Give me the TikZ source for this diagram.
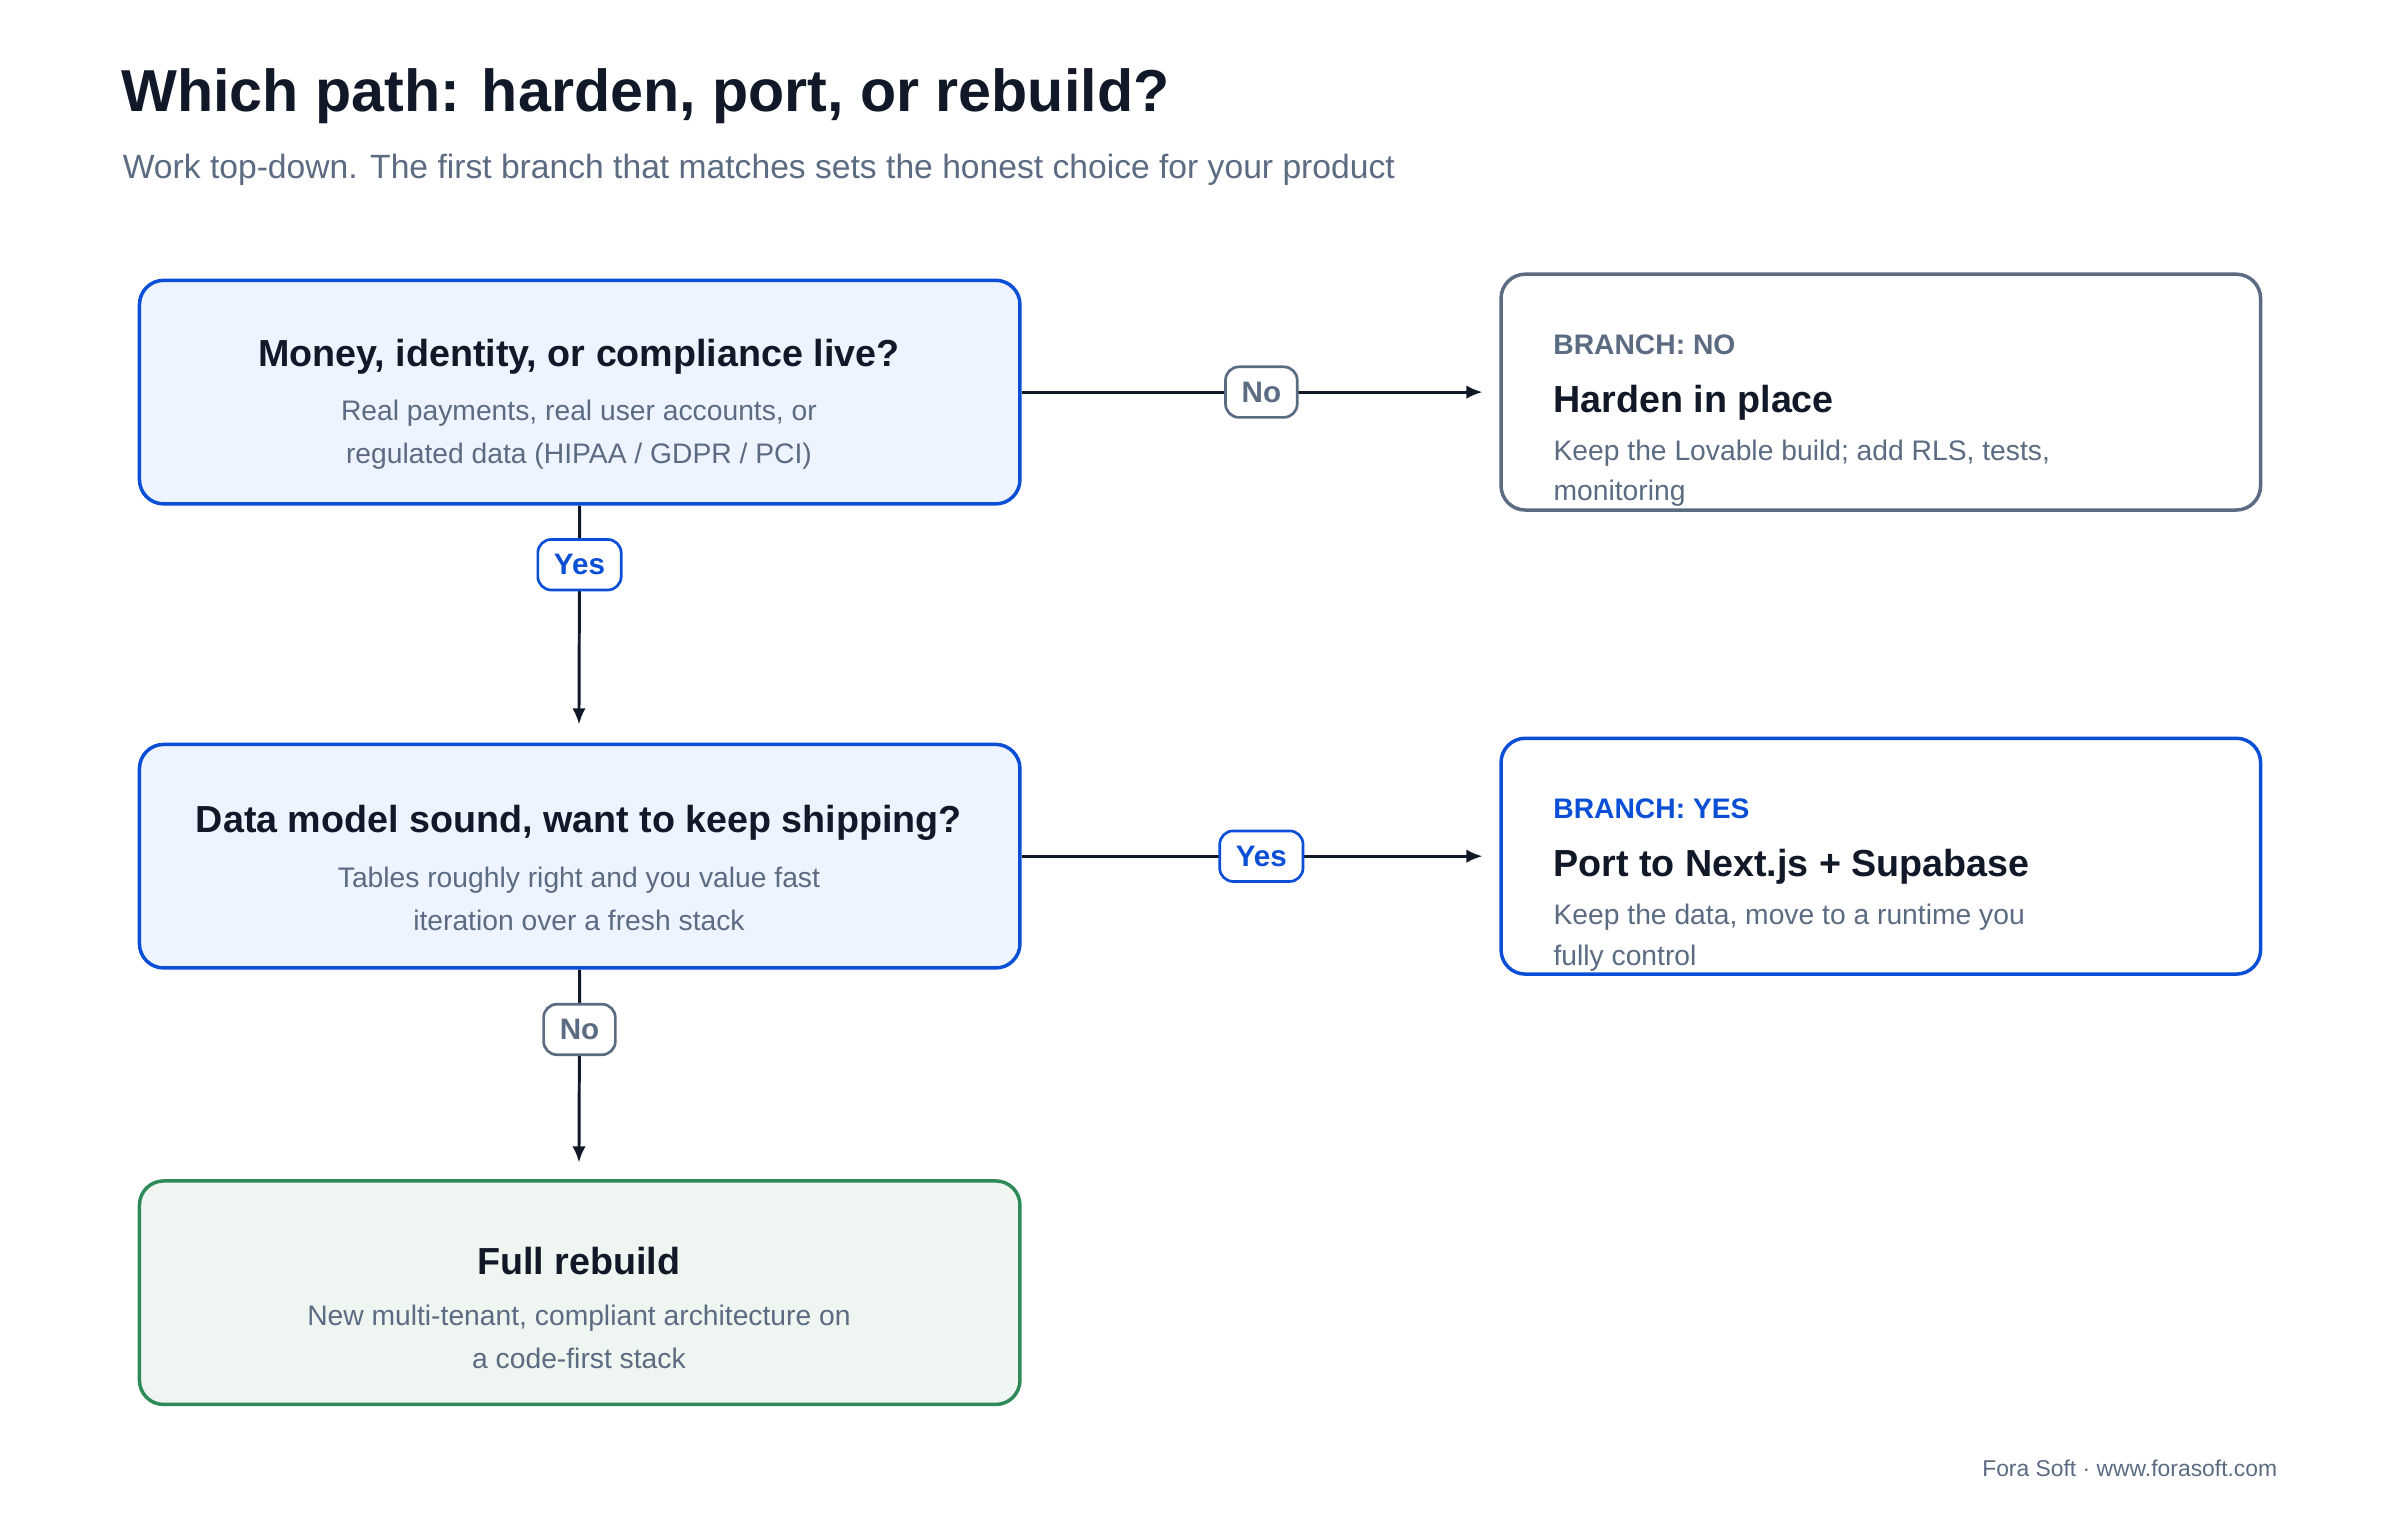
\documentclass[tikz,border=0pt]{standalone}
\usepackage{fontspec}
\setmainfont{Liberation Sans}
\usetikzlibrary{positioning}
\usetikzlibrary{arrows.meta}
\definecolor{ink}{HTML}{111827}
\definecolor{slate}{HTML}{5B6B82}
\definecolor{brand}{HTML}{0B4FD6}
\definecolor{qfill}{HTML}{EEF4FF}
\definecolor{okgreen}{HTML}{2E8B57}
\definecolor{gfill}{HTML}{EFF6F1}
\tikzset{
  qbox/.style={draw=brand,fill=qfill,line width=1.3pt,rounded corners=9pt,minimum width=11.5cm,minimum height=2.92cm},
  obox/.style={draw=#1,fill=white,line width=1.3pt,rounded corners=9pt,minimum width=9.92cm,minimum height=3.08cm},
  pill/.style={draw=#1,fill=white,text=#1,line width=1pt,rounded corners=5pt,font=\bfseries\fontsize{11}{13}\selectfont,minimum height=0.66cm,inner xsep=6pt},
  link/.style={ink,line width=1.1pt,-{Latex[length=6pt,width=5pt]}},
  qtitle/.style={font=\bfseries\fontsize{14}{16}\selectfont,text=ink},
  body/.style={font=\fontsize{10.5}{16}\selectfont,text=slate,align=center},
}
\begin{document}
\begin{tikzpicture}[x=0.02cm,y=-0.02cm]
\useasboundingbox[fill=white] (0,0) rectangle (1567,992);
% heading
\node[anchor=west,font=\bfseries\fontsize{22}{26}\selectfont,text=ink] (title) at (73,63) {Which path: harden, port, or rebuild?};
\node[anchor=west,font=\fontsize{12.5}{15}\selectfont,text=slate] (sub) at (74,111) {Work top-down. The first branch that matches sets the honest choice for your product};

% questions
\node[qbox] (q1) at (378.5,256) {};
\node[qtitle] at (378,233) {Money, identity, or compliance live?};
\node[body] at (378,284) {Real payments, real user accounts, or\\regulated data (HIPAA / GDPR / PCI)};
\node[qbox] (q2) at (378.5,559) {};
\node[qtitle] at (378,537) {Data model sound, want to keep shipping?};
\node[body] at (378,587) {Tables roughly right and you value fast\\iteration over a fresh stack};
\node[qbox,draw=okgreen,fill=gfill] (rebuild) at (378.5,844) {};
\node[qtitle] at (378,823) {Full rebuild};
\node[body] at (378,873) {New multi-tenant, compliant architecture on\\a code-first stack};

% outcomes
\node[obox=slate] (harden) at (1228,256) {};
\node[anchor=west,font=\bfseries\fontsize{10.5}{12}\selectfont,text=slate] at (1008,225) {BRANCH: NO};
\node[anchor=west,qtitle] at (1008,263) {Harden in place};
\node[anchor=north west,inner sep=0pt,font=\fontsize{10.5}{15}\selectfont,text=slate,align=left] at (1014,287) {Keep the Lovable build; add RLS, tests,\\monitoring};
\node[obox=brand] (port) at (1228,559) {};
\node[anchor=west,font=\bfseries\fontsize{10.5}{12}\selectfont,text=brand] at (1008,528) {BRANCH: YES};
\node[anchor=west,qtitle] at (1008,566) {Port to Next.js + Supabase};
\node[anchor=north west,inner sep=0pt,font=\fontsize{10.5}{15}\selectfont,text=slate,align=left] at (1014,590) {Keep the data, move to a runtime you\\fully control};

% connectors
\coordinate (h) at (968,256);
\coordinate (p) at (968,559);
\coordinate (d1) at (378,473);
\coordinate (d2) at (378,759);
\draw[link] (q1.east) -- (h) node[pill=slate,pos=0.52] {No};
\draw[link] (q1.south) -- (d1) node[pill=brand,pos=0.27] {Yes};
\draw[link] (q2.east) -- (p) node[pill=brand,pos=0.52] {Yes};
\draw[link] (q2.south) -- (d2) node[pill=slate,pos=0.31] {No};

\node[anchor=east,font=\fontsize{8.5}{10}\selectfont,text=slate] (foot) at (1493,959) {Fora Soft · www.forasoft.com};
\end{tikzpicture}
\end{document}
